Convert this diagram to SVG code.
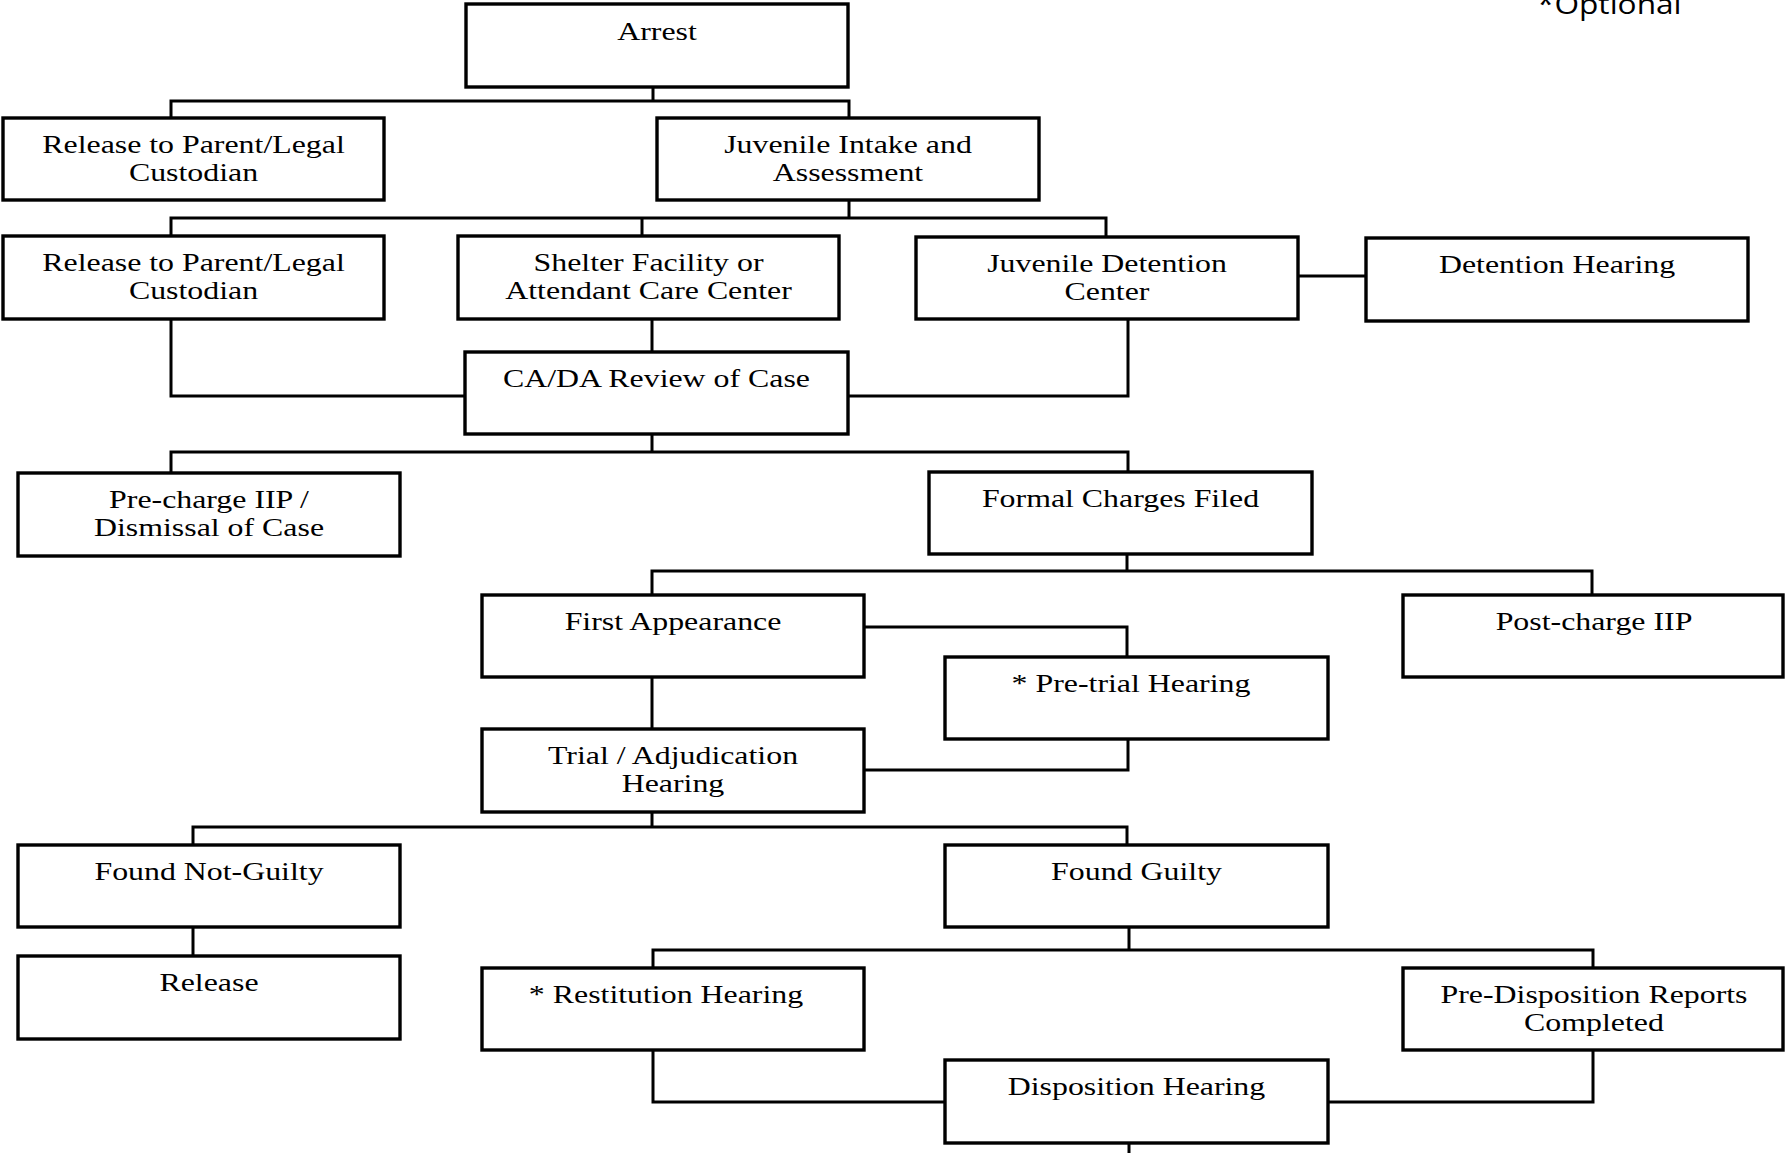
<svg xmlns="http://www.w3.org/2000/svg" width="1785" height="1153" viewBox="0 0 1785 1153">
<style>
  .box { fill: #ffffff; stroke: #000000; stroke-width: 3.4; }
  .t { font-family: "Liberation Serif", "Times New Roman", serif; font-size: 25px; fill: #000000; text-anchor: middle; }
  .c { fill: none; stroke: #000000; stroke-width: 3; stroke-linejoin: miter; stroke-linecap: square; }
  .note { font-family: "Open Sans", "Liberation Sans", sans-serif; font-size: 28px; fill: #000000; }
</style>
<rect x="0" y="0" width="1785" height="1153" fill="#ffffff"/>

<g id="connectors">
  <path class="c" d="M653,87 V101 M171,118 V101 H849 V118"/>
  <path class="c" d="M849,200 V218 M171,236 V218 H1106 V237 M642,218 V236"/>
  <path class="c" d="M1298,276 H1366"/>
  <path class="c" d="M652,319 V352"/>
  <path class="c" d="M171,319 V396 H465"/>
  <path class="c" d="M1128,319 V396 H848"/>
  <path class="c" d="M652,434 V452 M171,473 V452 H1128 V472"/>
  <path class="c" d="M1127,554 V571 M652,595 V571 H1592 V595"/>
  <path class="c" d="M864,627 H1127 V657"/>
  <path class="c" d="M1128,739 V770 H864"/>
  <path class="c" d="M652,677 V729"/>
  <path class="c" d="M652,812 V827 M193,845 V827 H1127 V845"/>
  <path class="c" d="M193,927 V956"/>
  <path class="c" d="M1129,927 V950 M653,968 V950 H1593 V968"/>
  <path class="c" d="M653,1050 V1102 H945"/>
  <path class="c" d="M1593,1050 V1102 H1328"/>
  <path class="c" d="M1129,1143 V1155"/>
</g>

<g id="optional-note">
  <text class="note" transform="translate(1537,14) scale(1.13,1)" x="0" y="0">*Optional</text>
</g>

<g id="arrest">
  <rect class="box" x="466" y="4" width="382" height="83"/>
  <text class="t" transform="translate(657,0) scale(1.275,1)" x="0" y="40">Arrest</text>
</g>

<g id="release-parent-1">
  <rect class="box" x="3" y="118" width="381" height="82"/>
  <text class="t" transform="translate(193.5,0) scale(1.275,1)" x="0" y="153">Release to Parent/Legal</text>
  <text class="t" transform="translate(193.5,0) scale(1.275,1)" x="0" y="181">Custodian</text>
</g>

<g id="juvenile-intake">
  <rect class="box" x="657" y="118" width="382" height="82"/>
  <text class="t" transform="translate(848,0) scale(1.275,1)" x="0" y="153">Juvenile Intake and</text>
  <text class="t" transform="translate(848,0) scale(1.275,1)" x="0" y="181">Assessment</text>
</g>

<g id="release-parent-2">
  <rect class="box" x="3" y="236" width="381" height="83"/>
  <text class="t" transform="translate(193.5,0) scale(1.275,1)" x="0" y="271">Release to Parent/Legal</text>
  <text class="t" transform="translate(193.5,0) scale(1.275,1)" x="0" y="299">Custodian</text>
</g>

<g id="shelter-facility">
  <rect class="box" x="458" y="236" width="381" height="83"/>
  <text class="t" transform="translate(648.5,0) scale(1.275,1)" x="0" y="271">Shelter Facility or</text>
  <text class="t" transform="translate(648.5,0) scale(1.275,1)" x="0" y="299">Attendant Care Center</text>
</g>

<g id="juvenile-detention">
  <rect class="box" x="916" y="237" width="382" height="82"/>
  <text class="t" transform="translate(1107,0) scale(1.275,1)" x="0" y="272">Juvenile Detention</text>
  <text class="t" transform="translate(1107,0) scale(1.275,1)" x="0" y="300">Center</text>
</g>

<g id="detention-hearing">
  <rect class="box" x="1366" y="238" width="382" height="83"/>
  <text class="t" transform="translate(1557,0) scale(1.275,1)" x="0" y="273">Detention Hearing</text>
</g>

<g id="ca-da-review">
  <rect class="box" x="465" y="352" width="383" height="82"/>
  <text class="t" transform="translate(656.5,0) scale(1.275,1)" x="0" y="387">CA/DA Review of Case</text>
</g>

<g id="pre-charge-iip">
  <rect class="box" x="18" y="473" width="382" height="83"/>
  <text class="t" transform="translate(209,0) scale(1.275,1)" x="0" y="508">Pre-charge IIP /</text>
  <text class="t" transform="translate(209,0) scale(1.275,1)" x="0" y="536">Dismissal of Case</text>
</g>

<g id="formal-charges">
  <rect class="box" x="929" y="472" width="383" height="82"/>
  <text class="t" transform="translate(1120.5,0) scale(1.275,1)" x="0" y="507">Formal Charges Filed</text>
</g>

<g id="first-appearance">
  <rect class="box" x="482" y="595" width="382" height="82"/>
  <text class="t" transform="translate(673,0) scale(1.275,1)" x="0" y="630">First Appearance</text>
</g>

<g id="post-charge-iip">
  <rect class="box" x="1403" y="595" width="380" height="82"/>
  <text class="t" transform="translate(1594,0) scale(1.275,1)" x="0" y="630">Post-charge IIP</text>
</g>

<g id="pre-trial-hearing">
  <rect class="box" x="945" y="657" width="383" height="82"/>
  <text class="t" transform="translate(1131,0) scale(1.275,1)" x="0" y="692">* Pre-trial Hearing</text>
</g>

<g id="trial-adjudication">
  <rect class="box" x="482" y="729" width="382" height="83"/>
  <text class="t" transform="translate(673,0) scale(1.275,1)" x="0" y="764">Trial / Adjudication</text>
  <text class="t" transform="translate(673,0) scale(1.275,1)" x="0" y="792">Hearing</text>
</g>

<g id="found-not-guilty">
  <rect class="box" x="18" y="845" width="382" height="82"/>
  <text class="t" transform="translate(209,0) scale(1.275,1)" x="0" y="880">Found Not-Guilty</text>
</g>

<g id="found-guilty">
  <rect class="box" x="945" y="845" width="383" height="82"/>
  <text class="t" transform="translate(1136.5,0) scale(1.275,1)" x="0" y="880">Found Guilty</text>
</g>

<g id="release">
  <rect class="box" x="18" y="956" width="382" height="83"/>
  <text class="t" transform="translate(209,0) scale(1.275,1)" x="0" y="991">Release</text>
</g>

<g id="restitution-hearing">
  <rect class="box" x="482" y="968" width="382" height="82"/>
  <text class="t" transform="translate(666,0) scale(1.275,1)" x="0" y="1003">* Restitution Hearing</text>
</g>

<g id="pre-disposition-reports">
  <rect class="box" x="1403" y="968" width="380" height="82"/>
  <text class="t" transform="translate(1594,0) scale(1.275,1)" x="0" y="1003">Pre-Disposition Reports</text>
  <text class="t" transform="translate(1594,0) scale(1.275,1)" x="0" y="1031">Completed</text>
</g>

<g id="disposition-hearing">
  <rect class="box" x="945" y="1060" width="383" height="83"/>
  <text class="t" transform="translate(1136.5,0) scale(1.275,1)" x="0" y="1095">Disposition Hearing</text>
</g>
</svg>
